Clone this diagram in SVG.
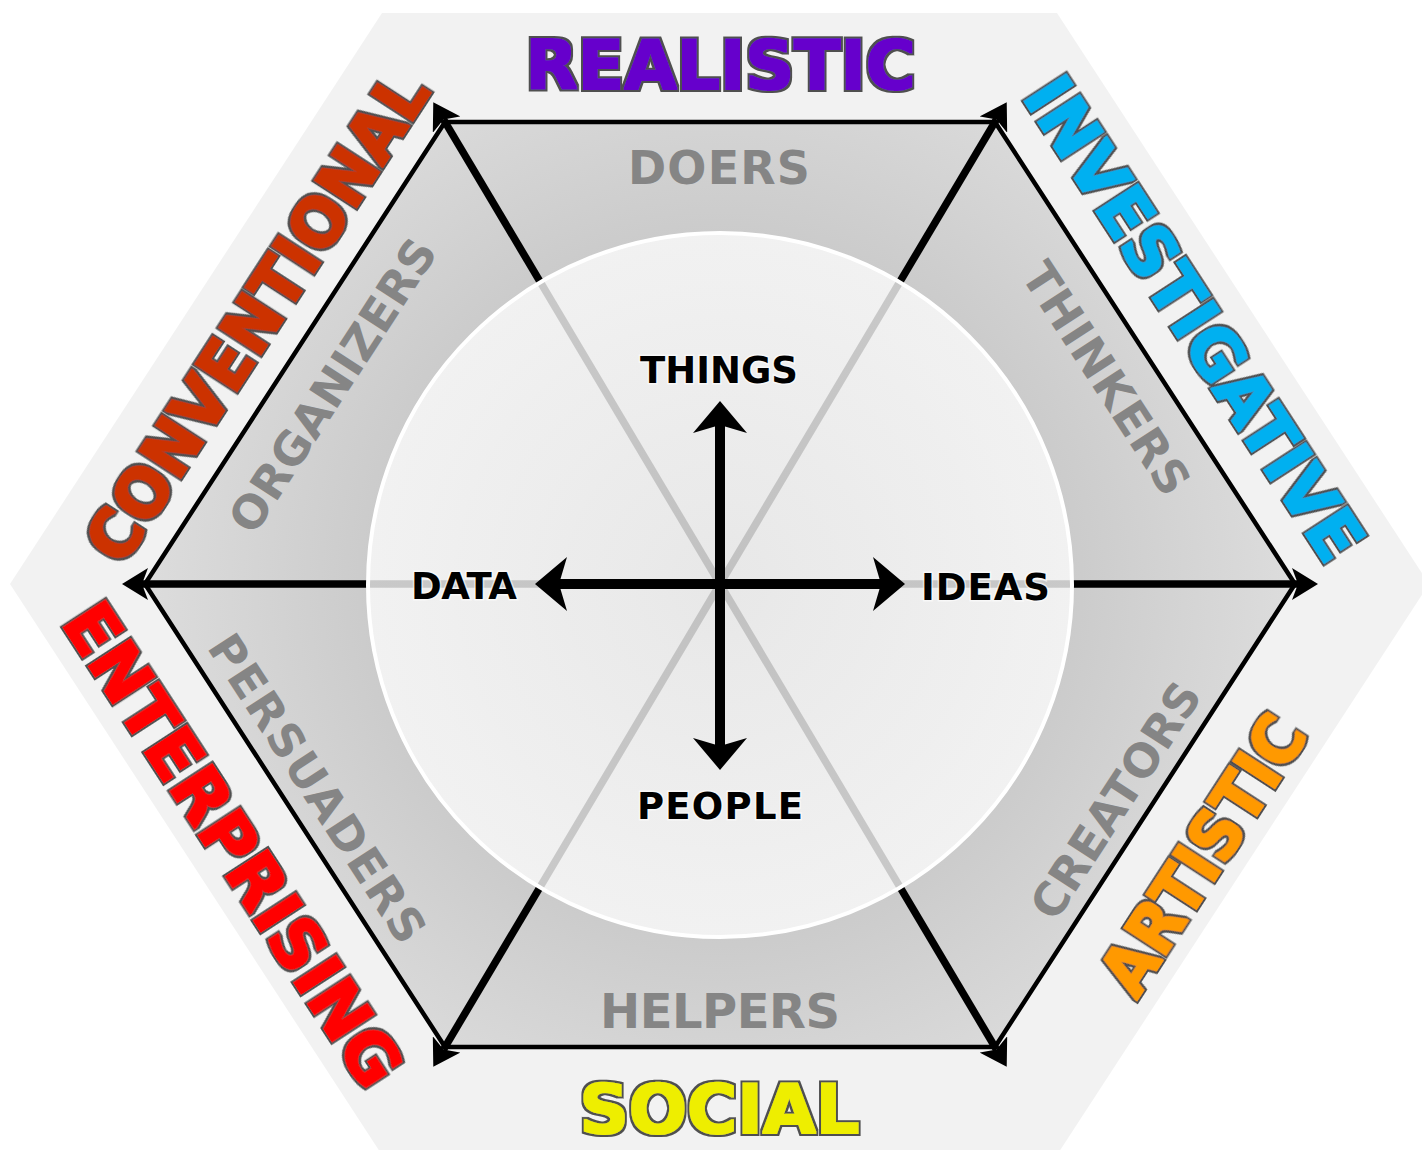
<svg xmlns="http://www.w3.org/2000/svg" width="1422" height="1150" viewBox="0 0 1422 1150">
  <defs>
    <radialGradient id="sectorGrad" gradientUnits="userSpaceOnUse" cx="720" cy="584" r="580">
      <stop offset="0" stop-color="#bebebe"/>
      <stop offset="0.6" stop-color="#cbcbcb"/>
      <stop offset="1" stop-color="#dddddd"/>
    </radialGradient>
    <radialGradient id="circleGrad" gradientUnits="userSpaceOnUse" cx="720" cy="584" r="352">
      <stop offset="0" stop-color="#f2f2f2"/>
      <stop offset="1" stop-color="#fbfbfb"/>
    </radialGradient>
    <filter id="heavy" x="-10%" y="-30%" width="120%" height="160%">
      <feMorphology in="SourceAlpha" operator="dilate" radius="3" result="outerShape"/>
      <feFlood flood-color="#505050" result="grey"/>
      <feComposite in="grey" in2="outerShape" operator="in" result="outline"/>
      <feMorphology in="SourceGraphic" operator="dilate" radius="0.8" result="thick"/>
      <feMerge>
        <feMergeNode in="outline"/>
        <feMergeNode in="thick"/>
      </feMerge>
    </filter>
    <marker id="spokeHead" markerUnits="userSpaceOnUse" viewBox="0 0 26 32" markerWidth="26" markerHeight="32" refX="6" refY="16" orient="auto">
      <path d="M0,0 L26,16 L0,32 L6,16 Z" fill="#000"/>
    </marker>
    <marker id="crossHead" markerUnits="userSpaceOnUse" viewBox="0 0 32 54" markerWidth="32" markerHeight="54" refX="8" refY="27" orient="auto">
      <path d="M0,0 L32,27 L0,54 L8,27 Z" fill="#000"/>
    </marker>
    <style>
      .outer { font-family: "DejaVu Sans", Verdana, sans-serif; font-weight: bold; font-size: 68px; text-anchor: middle; filter: url(#heavy); }
      .sector { font-family: "DejaVu Sans", Verdana, sans-serif; font-weight: bold; fill: #858585; text-anchor: middle; }
      .axis { font-family: "DejaVu Sans", Verdana, sans-serif; font-weight: bold; font-size: 37px; fill: #000; text-anchor: middle; stroke: #ffffff; stroke-width: 3px; stroke-opacity: 0.6; paint-order: stroke; }
      .edge { fill: none; stroke: #000; stroke-width: 4.5; stroke-linejoin: miter; }
      .spoke { stroke: #000; stroke-width: 7.5; marker-end: url(#spokeHead); }
      .cross { stroke: #000; stroke-width: 10; marker-end: url(#crossHead); }
    </style>
  </defs>

  <rect x="0" y="0" width="1422" height="1150" fill="#ffffff"/>

  <!-- outer hexagon band -->
  <polygon id="outer-hexagon" points="382,13 1057,13 1429,584 1057,1155 382,1155 10,584" fill="#f2f2f2"/>

  <!-- sectors -->
  <g id="sector-doers">
    <polygon points="720,584 445,122 995,122" fill="url(#sectorGrad)"/>
  </g>
  <g id="sector-thinkers">
    <polygon points="720,584 995,122 1295,584" fill="url(#sectorGrad)"/>
  </g>
  <g id="sector-creators">
    <polygon points="720,584 1295,584 995,1047" fill="url(#sectorGrad)"/>
  </g>
  <g id="sector-helpers">
    <polygon points="720,584 995,1047 445,1047" fill="url(#sectorGrad)"/>
  </g>
  <g id="sector-persuaders">
    <polygon points="720,584 445,1047 145,584" fill="url(#sectorGrad)"/>
  </g>
  <g id="sector-organizers">
    <polygon points="720,584 145,584 445,122" fill="url(#sectorGrad)"/>
  </g>

  <!-- connectors: hexagon edges and spokes -->
  <g id="connectors">
    <polygon class="edge" points="445,122 995,122 1295,584 995,1047 445,1047 145,584"/>
    <line class="spoke" x1="720" y1="584" x2="443.5" y2="119.4"/>
    <line class="spoke" x1="720" y1="584" x2="996.5" y2="119.4"/>
    <line class="spoke" x1="720" y1="584" x2="1298" y2="584"/>
    <line class="spoke" x1="720" y1="584" x2="996.5" y2="1049.6"/>
    <line class="spoke" x1="720" y1="584" x2="443.5" y2="1049.6"/>
    <line class="spoke" x1="720" y1="584" x2="142" y2="584"/>
  </g>

  <!-- central circle -->
  <g id="center-circle">
    <circle cx="720" cy="585" r="352" fill="url(#circleGrad)" fill-opacity="0.8" stroke="#ffffff" stroke-width="4"/>
  </g>

  <!-- central cross -->
  <g id="axis-cross">
    <line class="cross" x1="720" y1="584" x2="720" y2="425"/>
    <line class="cross" x1="720" y1="584" x2="720" y2="746"/>
    <line class="cross" x1="720" y1="584" x2="559" y2="584"/>
    <line class="cross" x1="720" y1="584" x2="881" y2="584"/>
  </g>

  <g id="axis-things"><text class="axis" x="719" y="383" textLength="158">THINGS</text></g>
  <g id="axis-people"><text class="axis" x="720" y="819" textLength="166">PEOPLE</text></g>
  <g id="axis-data"><text class="axis" x="464" y="599" textLength="106">DATA</text></g>
  <g id="axis-ideas"><text class="axis" x="985.5" y="600" textLength="129">IDEAS</text></g>

  <!-- sector labels -->
  <g id="label-doers"><text class="sector" x="719" y="184" font-size="46" textLength="182">DOERS</text></g>
  <g id="label-helpers"><text class="sector" x="720" y="1028" font-size="48" textLength="240">HELPERS</text></g>
  <g id="label-organizers" transform="translate(332,385) rotate(-57)"><text class="sector" x="0" y="17" font-size="46" textLength="340">ORGANIZERS</text></g>
  <g id="label-thinkers" transform="translate(1107,378) rotate(57)"><text class="sector" x="0" y="17" font-size="46" textLength="267">THINKERS</text></g>
  <g id="label-persuaders" transform="translate(318,788) rotate(57)"><text class="sector" x="0" y="17" font-size="46" textLength="358">PERSUADERS</text></g>
  <g id="label-creators" transform="translate(1115,800) rotate(-57)"><text class="sector" x="0" y="17" font-size="46" textLength="272">CREATORS</text></g>

  <!-- outer type labels -->
  <g id="type-realistic"><text class="outer" x="720.5" y="89" fill="#6600cc" textLength="390" lengthAdjust="spacingAndGlyphs">REALISTIC</text></g>
  <g id="type-social"><text class="outer" x="719.5" y="1133" fill="#eeee00" textLength="280" lengthAdjust="spacingAndGlyphs">SOCIAL</text></g>
  <g id="type-conventional" transform="translate(256,316) rotate(-57)"><text class="outer" x="0" y="25" fill="#cc3300" textLength="568" lengthAdjust="spacingAndGlyphs">CONVENTIONAL</text></g>
  <g id="type-investigative" transform="translate(1195,318) rotate(57)"><text class="outer" x="0" y="25" fill="#00b0f0" textLength="561" lengthAdjust="spacingAndGlyphs">INVESTIGATIVE</text></g>
  <g id="type-enterprising" transform="translate(234,844) rotate(57)"><text class="outer" x="0" y="25" fill="#ff0000" textLength="561" lengthAdjust="spacingAndGlyphs">ENTERPRISING</text></g>
  <g id="type-artistic" transform="translate(1202,854) rotate(-57)"><text class="outer" x="0" y="25" fill="#ff9900" textLength="317" lengthAdjust="spacingAndGlyphs">ARTISTIC</text></g>
</svg>
